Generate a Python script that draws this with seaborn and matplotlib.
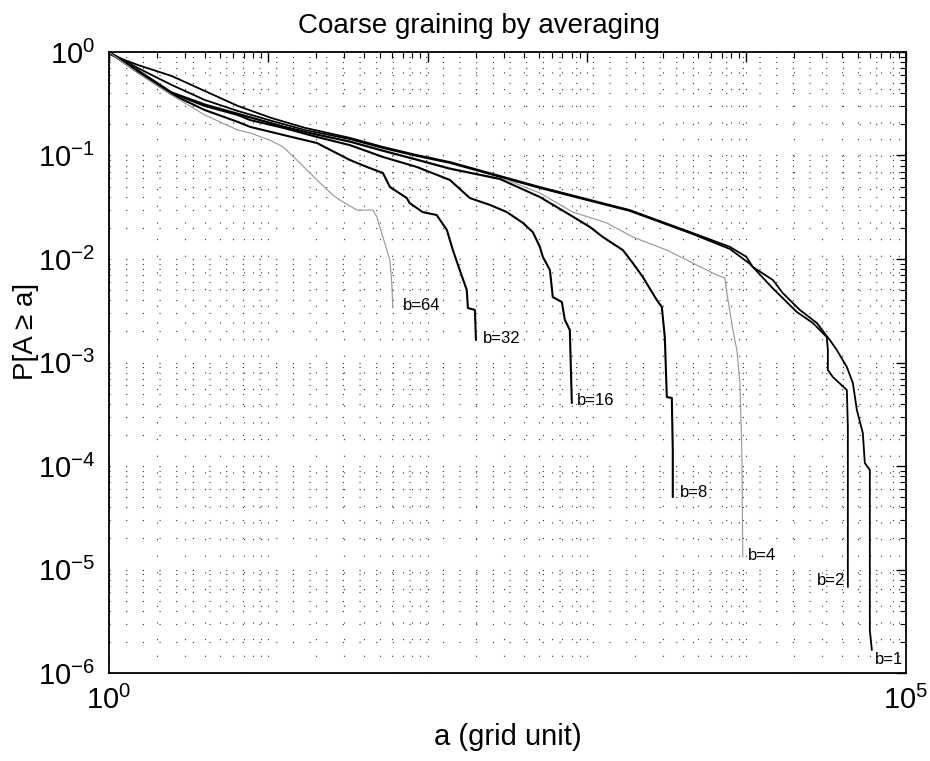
import numpy as np
import pandas as pd
import matplotlib
matplotlib.use("Agg")
import matplotlib.pyplot as plt
import seaborn as sns
from matplotlib.ticker import LogLocator, NullFormatter

# curves: a (grid unit) and P[A >= a] for each block size b
a_b1 = [1, 1.04, 1.52, 2.48, 4.0, 6.45, 10.5, 17.0, 32.5, 52.4, 85.5, 138, 506, 1856, 4610,
        7870, 9980, 10970, 14650, 16900, 21640, 27650, 33350, 36900, 42660, 46530, 49300,
        53740, 55300, 59450, 59450, 61220]
p_b1 = [1, 0.935, 0.749, 0.586, 0.420, 0.301, 0.230, 0.185, 0.148, 0.121, 0.101, 0.0865,
        0.0496, 0.0297, 0.0178, 0.0131, 0.0105, 0.00837, 0.00627, 0.00469, 0.00322, 0.00241,
        0.00165, 0.00132, 0.000905, 0.000634, 0.000348, 0.000208, 0.000107, 9.15e-5,
        2.6e-6, 1.67e-6]

a_b2 = [1, 1.52, 2.48, 4.0, 6.45, 10.5, 17.0, 32.5, 52.4, 85.5, 138, 506, 1856, 4610, 7870,
        10500, 14650, 20700, 26100, 31920, 32430, 32430, 34850, 42660, 43280, 43280]
p_b2 = [1, 0.700, 0.480, 0.344, 0.269, 0.216, 0.176, 0.144, 0.118, 0.0989, 0.0847, 0.0485,
        0.0291, 0.0174, 0.0125, 0.00900, 0.00520, 0.00308, 0.00241, 0.00176, 0.00132,
        0.000847, 0.000724, 0.000542, 0.000238, 6.78e-6]

a_b4 = [1, 1.52, 2.48, 4.0, 6.45, 12.4, 20.2, 32.5, 52.4, 85.5, 138, 314, 506, 815, 1331,
        1937, 3167, 4610, 6520, 7320, 7540, 8220, 8710, 9100, 9360, 9490]
p_b4 = [1, 0.670, 0.411, 0.315, 0.257, 0.193, 0.161, 0.138, 0.113, 0.0925, 0.0757, 0.058,
        0.0434, 0.0284, 0.0223, 0.0163, 0.0122, 0.00914, 0.00700, 0.00655, 0.00469, 0.00206,
        0.00132, 0.000634, 0.000143, 1.32e-5]

a_b8 = [1, 1.52, 2.48, 4.0, 6.45, 12.4, 20.2, 32.5, 52.4, 85.5, 138, 284, 506, 747, 1042,
        1257, 1677, 1937, 2239, 2741, 2946, 3076, 3167, 3404, 3452, 3452]
p_b8 = [1, 0.665, 0.405, 0.31, 0.252, 0.19, 0.159, 0.136, 0.111, 0.091, 0.0745, 0.0593,
        0.0397, 0.0278, 0.0204, 0.0163, 0.0122, 0.00914, 0.00670, 0.00401, 0.00344, 0.00176,
        0.000464, 0.000454, 0.000143, 5.01e-5]

a_b16 = [1, 1.52, 2.48, 4.0, 6.45, 7.7, 12.4, 20.2, 32.5, 52.4, 85.5, 138, 184, 246, 314,
         396, 457, 506, 528, 585, 610, 695, 726, 780, 803]
p_b16 = [1, 0.641, 0.402, 0.301, 0.246, 0.220, 0.185, 0.151, 0.126, 0.0968, 0.0775, 0.0580,
         0.0388, 0.0333, 0.0284, 0.0223, 0.0182, 0.0131, 0.0105, 0.00783, 0.00429, 0.00384,
         0.00258, 0.00206, 0.000406]

a_b32 = [1, 1.52, 2.48, 4.0, 6.45, 7.7, 12.4, 20.2, 32.5, 41.6, 52.4, 58.0, 74, 77, 93, 114,
         132, 144, 159, 176, 179, 198, 201]
p_b32 = [1, 0.64, 0.39, 0.275, 0.211, 0.189, 0.158, 0.132, 0.0905, 0.0775, 0.0678, 0.0496,
         0.0388, 0.0348, 0.0284, 0.0266, 0.0191, 0.0122, 0.00783, 0.00502, 0.00336, 0.00322,
         0.00165]

a_b64 = [1, 1.52, 2.48, 4.0, 6.45, 7.7, 10.2, 12.4, 15.8, 20.2, 25.4, 28.1, 36.0, 45.3, 48.0,
         52.4, 55.5, 58.0, 59.6, 60.5]
p_b64 = [1, 0.627, 0.384, 0.246, 0.176, 0.165, 0.141, 0.121, 0.0847, 0.058, 0.0415, 0.0372,
         0.0297, 0.0297, 0.0255, 0.0163, 0.0122, 0.00978, 0.00586, 0.00336]

labels = ["b=1", "b=2", "b=4", "b=8", "b=16", "b=32", "b=64"]

curves = [
    (a_b1, p_b1, "black", 1.3),
    (a_b2, p_b2, "black", 1.3),
    (a_b4, p_b4, "#959595", 0.8),
    (a_b8, p_b8, "black", 1.5),
    (a_b16, p_b16, "black", 1.5),
    (a_b32, p_b32, "black", 1.5),
    (a_b64, p_b64, "#959595", 0.8),
]

sns.set_style("white")
plt.rcParams['font.family'] = ['Liberation Sans', 'DejaVu Sans']
plt.rcParams['text.color'] = 'black'
plt.rcParams['axes.labelcolor'] = 'black'
plt.rcParams['xtick.color'] = 'black'
plt.rcParams['ytick.color'] = 'black'

fig = plt.figure(figsize=(9.3, 7.61), dpi=100)
ax = fig.add_axes([0.117, 0.1156, 0.857, 0.8161])

for (xs, ys, col, lw), lab in zip(curves, labels):
    sns.lineplot(x=xs, y=ys, ax=ax, color=col, linewidth=lw, sort=False, estimator=None)

ax.set_xscale("log")
ax.set_yscale("log")
ax.set_xlim(1, 1e5)
ax.set_ylim(1e-6, 1)

# end labels
lab_off = {"b=1": (2, -7, "left"), "b=2": (-2, 5, "right"), "b=4": (4, 1, "left"),
           "b=8": (5, 3, "left"), "b=16": (4, 2, "left"), "b=32": (5, 1, "left"),
           "b=64": (7, 2, "left")}
for (xs, ys, col, lw), lab in zip(curves, labels):
    dx, dy, ha = lab_off[lab]
    ax.annotate(lab, (xs[-1], ys[-1]), xytext=(dx, dy), textcoords="offset points",
                ha=ha, va="center", fontsize=12)

# matlab style dotted grid (sparse, like the scan)
ax.grid(True, which="both", color="#333333", linestyle=(0, (1, 14)), linewidth=0.8)

ax.set_xticks([1, 10, 100, 1e3, 1e4, 1e5])
ax.set_xticklabels([r"$\mathdefault{10^{0}}$", "", "", "", "", r"$\mathdefault{10^{5}}$"])
ax.set_yticks([1e-6, 1e-5, 1e-4, 1e-3, 1e-2, 1e-1, 1])
ax.set_yticklabels([r"$\mathdefault{10^{%d}}$" % k for k in range(-6, 1)])
ax.xaxis.set_minor_locator(LogLocator(base=10, subs=np.arange(2, 10), numticks=20))
ax.yaxis.set_minor_locator(LogLocator(base=10, subs=np.arange(2, 10), numticks=20))
ax.xaxis.set_minor_formatter(NullFormatter())
ax.yaxis.set_minor_formatter(NullFormatter())
ax.tick_params(which="both", direction="in", top=True, right=True, labelsize=21)
ax.tick_params(which="major", length=7, width=1)
ax.tick_params(which="minor", length=4, width=0.8)
ax.tick_params(axis="x", pad=9)
ax.tick_params(axis="y", pad=10)
for sp in ax.spines.values():
    sp.set_linewidth(1.3)
    sp.set_color("black")

ax.set_title("Coarse graining by averaging", fontsize=20, pad=14, x=0.465)
ax.set_xlabel("a (grid unit)", fontsize=21, labelpad=6)
ax.set_ylabel("P[A \u2265 a]", fontsize=20)
ax.yaxis.set_label_coords(-0.087, 0.55)

fig.savefig("out.png", dpi=100)
